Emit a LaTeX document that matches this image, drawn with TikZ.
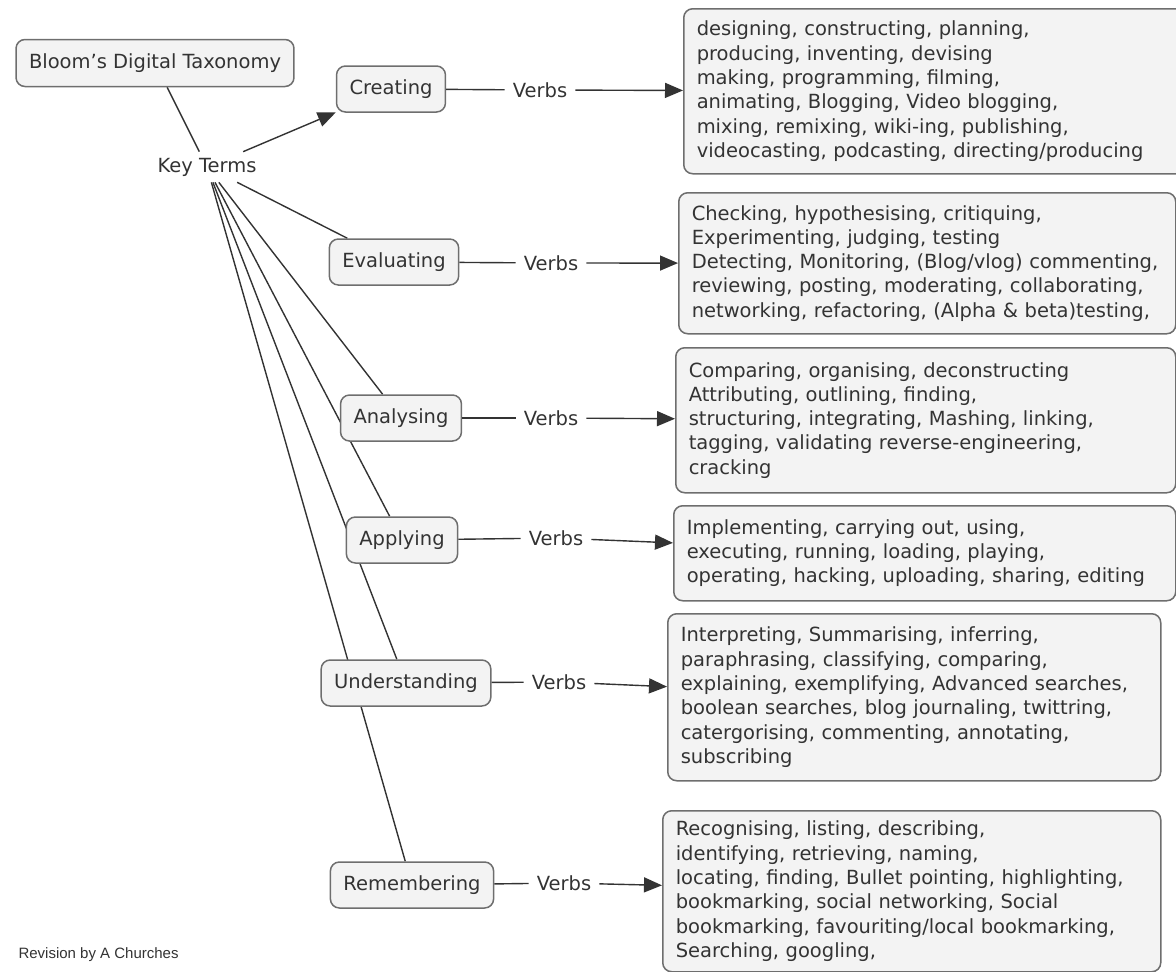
\documentclass[tikz,border=0pt]{standalone}
\usepackage{fontspec}
\setmainfont{DejaVu Sans}
\newfontfamily\revfont{Liberation Sans}
\usetikzlibrary{arrows.meta,positioning,backgrounds}
\definecolor{boxfill}{RGB}{243,243,243}
\definecolor{boxline}{RGB}{110,110,110}

\begin{document}
\begin{tikzpicture}[x=1pt,y=-1pt,font=\fontsize{19.5}{24.3}\selectfont,text=black!80,
    term/.style={draw=boxline,line width=1.5pt,fill=boxfill,rounded corners=9pt,minimum height=46pt,inner xsep=13pt},
    verbs/.style={inner xsep=8pt,inner ysep=5pt},
    verblist/.style={draw=boxline,line width=1.5pt,fill=boxfill,rounded corners=9pt,anchor=north west,align=left,inner xsep=13pt,inner ysep=2pt},
    conn/.style={black!80,line width=1.4pt},
    arr/.style={conn,-{Triangle[length=18pt,width=15pt]}}]
\useasboundingbox (0,0) rectangle (1176,972);
\node[term,minimum height=47pt] (bloom) at (155,63) {Bloom’s Digital Taxonomy};
\node[inner sep=6pt] (key) at (207,167) {Key Terms};
% the six levels
\node[term] (cre) at (391,89) {Creating};
\node[term] (eva) at (394,262) {Evaluating};
\node[term] (ana) at (401,418) {Analysing};
\node[term] (app) at (402,540) {Applying};
\node[term] (und) at (406,683) {Understanding};
\node[term] (rem) at (412,885) {Remembering};
\node[verbs] (cre-v) at (540,90) {Verbs};
\node[verbs] (eva-v) at (551,263) {Verbs};
\node[verbs] (ana-v) at (551,418) {Verbs};
\node[verbs] (app-v) at (556,538) {Verbs};
\node[verbs] (und-v) at (559,682) {Verbs};
\node[verbs] (rem-v) at (564,883) {Verbs};
% verb lists
\node[verblist,text width=481pt,minimum height=165pt] (cre-l) at (683,8) {designing, constructing, planning,\\
producing, inventing, devising\\
making, programming, filming,\\
animating, Blogging, Video blogging,\\
mixing, remixing, wiki-ing, publishing,\\
videocasting, podcasting, directing/producing};
\node[verblist,text width=471pt,minimum height=141pt] (eva-l) at (678,192) {Checking, hypothesising, critiquing,\\
Experimenting, judging, testing\\
Detecting, Monitoring, (Blog/vlog) commenting,\\
reviewing, posting, moderating, collaborating,\\
networking, refactoring, (Alpha \& beta)testing,};
\node[verblist,text width=474pt,minimum height=145pt] (ana-l) at (675,347) {Comparing, organising, deconstructing\\
Attributing, outlining, finding,\\
structuring, integrating, Mashing, linking,\\
tagging, validating reverse-engineering,\\
cracking};
\node[verblist,text width=476pt,minimum height=95pt] (app-l) at (673,505) {Implementing, carrying out, using,\\
executing, running, loading, playing,\\
operating, hacking, uploading, sharing, editing};
\node[verblist,text width=467pt,minimum height=167pt] (und-l) at (667,613) {Interpreting, Summarising, inferring,\\
paraphrasing, classifying, comparing,\\
explaining, exemplifying, Advanced searches,\\
boolean searches, blog journaling, twittring,\\
catergorising, commenting, annotating,\\
subscribing};
\node[verblist,text width=472pt,minimum height=161pt] (rem-l) at (662,810) {Recognising, listing, describing,\\
identifying, retrieving, naming,\\
locating, finding, Bullet pointing, highlighting,\\
bookmarking, social networking, Social\\
bookmarking, favouriting/local bookmarking,\\
Searching, googling,};
\node[font=\revfont\fontsize{15}{18}\selectfont,anchor=west] (rev) at (15,955) {Revision by A Churches};
% links behind the boxes
\begin{scope}[on background layer]
  \draw[conn] (bloom) -- (key);
  \foreach \n in {eva,ana,app,und,rem} \draw[conn] (key) -- (\n);
\end{scope}
\draw[arr] (key) -- (cre);
\foreach \n in {cre,eva,ana,app,und,rem} {
  \draw[conn] (\n) -- (\n-v);
  \draw[arr] (\n-v) -- (\n-l);
}
\end{tikzpicture}
\end{document}
